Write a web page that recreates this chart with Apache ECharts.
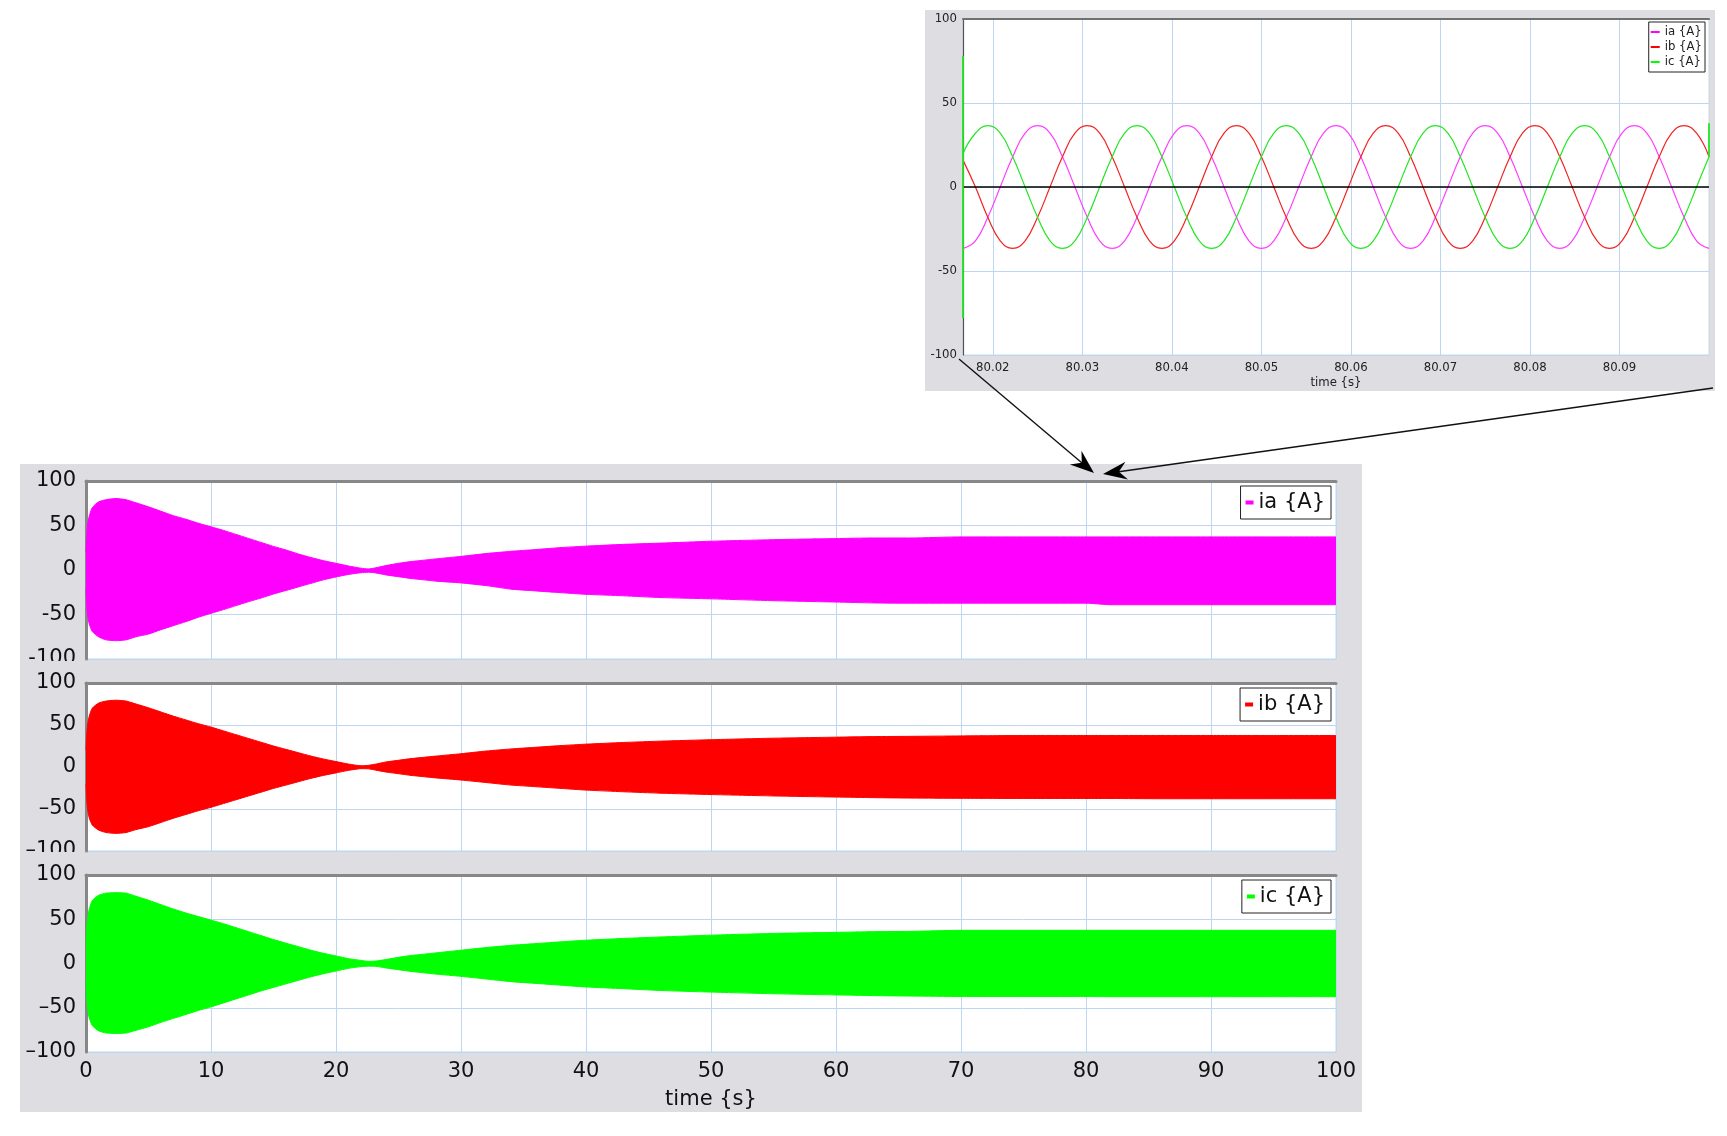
<!DOCTYPE html>
<html><head><meta charset="utf-8">
<script src="https://cdn.jsdelivr.net/npm/echarts@6.0.0/dist/echarts.min.js"></script>
<style>html,body{margin:0;padding:0;background:#fff;}#c{width:1727px;height:1136px;}</style>
</head><body><div id="c"></div>
<script>
// ---------- DATA ----------
// envelope of the 60 Hz currents over the 100 s run (main panels)
const envTime = [0, 0.1, 0.25, 0.5, 1, 1.6, 2.4, 3.2, 4, 5, 6, 7, 8, 9, 10, 11, 12, 13, 14, 15, 16, 17, 18, 19, 20, 21, 22, 22.6, 23.2, 24, 25, 26, 27, 28, 30, 32, 34, 36, 38, 40, 43, 46, 50, 55, 60, 63, 66, 70, 75, 80, 82, 86, 90, 95, 100];
const iaUpper = [20, 48, 60, 70, 76.5, 79, 80.3, 79, 75.5, 71, 66, 61, 57, 52.5, 48.5, 44.5, 40, 35.5, 31, 26.5, 22.5, 18, 14, 10.5, 7.5, 4.5, 2, 1.2, 2.5, 5, 7.5, 9.5, 11, 12.5, 15.3, 18.5, 21, 23, 25.2, 26.8, 28.8, 30.2, 32.3, 34.1, 35.3, 36, 36, 37.2, 37.2, 37.2, 37.2, 37.2, 37.2, 37.2, 37.2];
const iaLower = [-20, -48, -60, -69, -75, -78.5, -79.4, -78.5, -75, -72, -67, -62.5, -58, -53, -48.7, -44.5, -40, -35.6, -31.5, -27, -23, -19, -15, -11, -7.8, -5, -3, -2.5, -3.3, -5.5, -7.5, -9.5, -11, -12.5, -14.5, -17.5, -21.5, -23.5, -25.5, -27.3, -29, -31, -32.4, -34.5, -36, -37, -37.3, -37.3, -37.3, -37.3, -39, -39, -39, -39, -39];
const ibUpper = [20, 47, 60, 70, 76, 78.5, 79.5, 78.5, 75, 70.5, 65.5, 60.5, 56, 51.5, 47.5, 43, 38.5, 34, 29.5, 25, 21, 17, 13, 9.5, 6.5, 3.5, 1.5, 2, 3.5, 6, 8, 10, 11.5, 13, 15.8, 19, 21.5, 23.5, 25.5, 27.2, 29.2, 30.8, 32.5, 34.3, 35.5, 36.2, 36.5, 37, 37.5, 37.5, 37.5, 37.5, 37.5, 37.5, 37.5];
const ibLower = [-20, -47, -60, -69, -75, -78, -79, -78, -74.5, -71, -66, -61, -56.5, -52, -48, -43.5, -39, -34.5, -30, -25.5, -21.5, -17.5, -13.5, -10, -7, -4, -2, -2.2, -3.8, -6, -8, -10, -11.5, -13, -15.5, -18.5, -21.5, -23.5, -25.5, -27.5, -29.5, -31.2, -32.8, -34.5, -35.8, -36.5, -37, -37.3, -37.5, -37.5, -37.5, -37.8, -37.8, -37.8, -37.8];
const icUpper = [20, 48, 61, 71, 77, 79.5, 80, 79.5, 76, 71.5, 66.5, 61.5, 57, 53, 49, 45, 40.5, 36, 31.5, 27, 23, 19, 15, 11.5, 8.5, 5.5, 3.5, 2.5, 2.8, 4.5, 7, 9, 10.5, 12, 15, 18, 20.5, 22.5, 24.5, 26.3, 28.3, 30, 32, 34, 35.2, 36, 36.3, 37.5, 37.5, 37.5, 37.5, 37.5, 37.5, 37.5, 37.5];
const icLower = [-20, -48, -61, -70, -76, -78.5, -79, -78.5, -75.5, -71.5, -66.5, -62, -57.5, -53, -49, -44.5, -40, -35.5, -31, -27, -23, -19, -15, -11.5, -8.5, -5.5, -3.5, -3, -3.2, -5, -7, -9, -10.5, -12, -14.5, -17.5, -20.5, -22.5, -24.5, -26.5, -28.5, -30.5, -32.3, -34.2, -35.5, -36.3, -36.8, -37.3, -37.3, -37.3, -37.5, -37.5, -37.5, -37.5, -37.5];

// zoomed window 80.0167 s .. 80.1 s (inset)
const zoomTime = [80.01667, 80.01806, 80.01944, 80.02083, 80.02222, 80.02361, 80.025, 80.02639, 80.02778, 80.02917, 80.03056, 80.03194,
  80.03333, 80.03472, 80.03611, 80.0375, 80.03889, 80.04028, 80.04167, 80.04306, 80.04444, 80.04583, 80.04722, 80.04861,
  80.05, 80.05139, 80.05278, 80.05417, 80.05556, 80.05694, 80.05833, 80.05972, 80.06111, 80.0625, 80.06389, 80.06528,
  80.06667, 80.06806, 80.06944, 80.07083, 80.07222, 80.07361, 80.075, 80.07639, 80.07778, 80.07917, 80.08056, 80.08194,
  80.08333, 80.08472, 80.08611, 80.0875, 80.08889, 80.09028, 80.09167, 80.09306, 80.09444, 80.09583, 80.09722, 80.09861, 80.1];
const zoomIa = [-36.5, -32, -18, 0, 18, 32, 36.5, 32, 18, 0, -18, -32,
  -36.5, -32, -18, 0, 18, 32, 36.5, 32, 18, 0, -18, -32,
  -36.5, -32, -18, 0, 18, 32, 36.5, 32, 18, 0, -18, -32,
  -36.5, -32, -18, 0, 18, 32, 36.5, 32, 18, 0, -18, -32,
  -36.5, -32, -18, 0, 18, 32, 36.5, 32, 18, 0, -18, -32, -36.5];
const zoomIb = [16, 0, -18, -32, -36.5, -32, -18, 0, 18, 32, 36.5, 32,
  18, 0, -18, -32, -36.5, -32, -18, 0, 18, 32, 36.5, 32,
  18, 0, -18, -32, -36.5, -32, -18, 0, 18, 32, 36.5, 32,
  18, 0, -18, -32, -36.5, -32, -18, 0, 18, 32, 36.5, 32,
  18, 0, -18, -32, -36.5, -32, -18, 0, 18, 32, 36.5, 32, 18];
const zoomIc = [20, 32, 36.5, 32, 18, 0, -18, -32, -36.5, -32, -18, 0,
  18, 32, 36.5, 32, 18, 0, -18, -32, -36.5, -32, -18, 0,
  18, 32, 36.5, 32, 18, 0, -18, -32, -36.5, -32, -18, 0,
  18, 32, 36.5, 32, 18, 0, -18, -32, -36.5, -32, -18, 0,
  18, 32, 36.5, 32, 18, 0, -18, -32, -36.5, -32, -18, 0, 18];
// switching transients visible at the window edges (ic)
const icSpikeStart = [[80.01667, 78], [80.01667, -78]];
const icSpikeEnd = [[80.1, 38], [80.1, 18]];

const insetTimeTicks = [80.02, 80.03, 80.04, 80.05, 80.06, 80.07, 80.08, 80.09];
const yTicks = [-100, -50, 0, 50, 100];
const seriesNames = ['ia {A}', 'ib {A}', 'ic {A}'];

// ---------- STYLE ----------
const FONT = "'DejaVu Sans', 'Liberation Sans', sans-serif";
const FONT_C = "'DejaVu Sans Condensed', 'Liberation Sans Narrow', 'DejaVu Sans', sans-serif";
const GRIDC = '#bdd6f1';
const BORDER = '#878787';
const BG = '#dedee2';
const pair = (xs, ys) => xs.map((x, i) => [x, ys[i]]);

const panels = [
  { name: seriesNames[0], color: '#ff00ff', up: iaUpper, lo: iaLower, top: 481, height: 178, dash: '-' },
  { name: seriesNames[1], color: '#ff0000', up: ibUpper, lo: ibLower, top: 683, height: 168, dash: '\u2013' },
  { name: seriesNames[2], color: '#00ff00', up: icUpper, lo: icLower, top: 875, height: 177, dash: '\u2013' }
];

const grid = [], xAxis = [], yAxis = [], series = [], legend = [];
panels.forEach((p, i) => {
  grid.push({ left: 86, top: p.top, width: 1250, height: p.height, show: true, backgroundColor: '#fff', borderColor: GRIDC, borderWidth: 1 });
  yAxis.push({
    gridIndex: i, type: 'value', min: yTicks[0], max: yTicks[yTicks.length - 1], interval: 50,
    axisLine: { show: true, onZero: false, lineStyle: { color: BORDER, width: 3 } },
    axisTick: { show: false },
    splitLine: { show: true, lineStyle: { color: GRIDC, width: 1 } },
    axisLabel: { fontSize: 21, fontFamily: FONT, color: '#111', margin: 10,
      formatter: v => v < 0 ? p.dash + Math.abs(v) : String(v) }
  });
  legend.push({
    data: [{ name: p.name, icon: 'rect' }], selectedMode: false,
    right: 396, top: p.top + 5, orient: 'horizontal',
    itemWidth: 8, itemHeight: 4, padding: [6, 6, 6, 5],
    borderColor: '#222', borderWidth: 1, backgroundColor: '#fff',
    textStyle: { fontSize: 21, fontFamily: FONT, color: '#111' }
  });
  series.push({
    type: 'line', name: p.name, xAxisIndex: i, yAxisIndex: i, data: pair(envTime, p.up),
    symbol: 'none', smooth: 0.2, lineStyle: { color: p.color, width: 1 }, itemStyle: { color: p.color },
    areaStyle: { color: p.color, opacity: 1, origin: -1 }, z: 3
  });
  series.push({
    type: 'line', name: p.name, xAxisIndex: i, yAxisIndex: i, data: pair(envTime, p.lo),
    symbol: 'none', smooth: 0.2, lineStyle: { color: p.color, width: 1 }, itemStyle: { color: p.color },
    areaStyle: { color: p.color, opacity: 1, origin: 1 }, z: 3
  });
});
panels.forEach((p, i) => {
  xAxis.push({
    gridIndex: i, type: 'value', min: 0, max: 100, interval: 10,
    axisLine: { show: false, onZero: false }, axisTick: { show: false },
    splitLine: { show: true, lineStyle: { color: GRIDC, width: 1 } },
    axisLabel: { show: i === 2, fontSize: 21, fontFamily: FONT, color: '#111', margin: 9 },
    name: i === 2 ? 'time {s}' : '', nameLocation: 'middle', nameGap: 37,
    nameTextStyle: { fontSize: 21, fontFamily: FONT, color: '#111' }
  });
});
panels.forEach((p, i) => {
  xAxis.push({
    gridIndex: i, type: 'value', position: 'top', min: 0, max: 100,
    axisLine: { show: true, onZero: false, lineStyle: { color: BORDER, width: 3 } },
    axisTick: { show: false }, axisLabel: { show: false }, splitLine: { show: false }
  });
});

// ---------- inset ----------
grid.push({ left: 963, top: 19, width: 746, height: 336, show: true, backgroundColor: '#fff', borderColor: '#c9d6e6', borderWidth: 1 });
xAxis.push({
  gridIndex: 3, type: 'value', min: zoomTime[0], max: zoomTime[zoomTime.length - 1],
  axisLine: { show: false, onZero: false },
  axisTick: { show: false, customValues: insetTimeTicks },
  splitLine: { show: true, lineStyle: { color: GRIDC, width: 1 } },
  axisLabel: { customValues: insetTimeTicks, fontSize: 13, fontFamily: FONT_C, color: '#222', margin: 6,
    formatter: v => v.toFixed(2) },
  name: 'time {s}', nameLocation: 'middle', nameGap: 21,
  nameTextStyle: { fontSize: 13, fontFamily: FONT_C, color: '#222' }
});
xAxis.push({
  gridIndex: 3, type: 'value', position: 'top', min: zoomTime[0], max: zoomTime[zoomTime.length - 1],
  axisLine: { show: true, onZero: false, lineStyle: { color: '#707070', width: 2 } },
  axisTick: { show: false }, axisLabel: { show: false }, splitLine: { show: false }
});
yAxis.push({
  gridIndex: 3, type: 'value', min: -100, max: 100, interval: 50,
  axisLine: { show: true, onZero: false, lineStyle: { color: '#555', width: 1.2 } },
  axisTick: { show: false },
  splitLine: { show: true, lineStyle: { color: GRIDC, width: 1 } },
  axisLabel: { fontSize: 13, fontFamily: FONT_C, color: '#222', margin: 6 }
});
const insetColors = ['#ff3cff', '#f22222', '#22e622'];
[zoomIa, zoomIb, zoomIc].forEach((arr, k) => {
  const s = {
    type: 'line', name: seriesNames[k], xAxisIndex: 6, yAxisIndex: 3, data: pair(zoomTime, arr),
    symbol: 'none', smooth: 0.45, lineStyle: { color: insetColors[k], width: 1.2 }, itemStyle: { color: insetColors[k] }, z: 4
  };
  if (k === 0) {
    s.markLine = { silent: true, symbol: ['none', 'none'], label: { show: false },
      lineStyle: { color: '#000', width: 1.5, type: 'solid' }, data: [{ yAxis: 0 }] };
  }
  series.push(s);
});
[icSpikeStart, icSpikeEnd].forEach(d => {
  series.push({ type: 'line', name: 'ic spike', xAxisIndex: 6, yAxisIndex: 3, data: d, symbol: 'none',
    lineStyle: { color: insetColors[2], width: 1.8 }, z: 5, clip: false });
});
legend.push({
  data: seriesNames.map(n => ({ name: n, icon: 'rect' })), selectedMode: false,
  orient: 'vertical', right: 22, top: 22, itemWidth: 9, itemHeight: 2, itemGap: 1,
  padding: [3, 3, 3, 2], borderColor: '#222', borderWidth: 1, backgroundColor: '#fff',
  textStyle: { fontSize: 13, fontFamily: FONT_C, color: '#222', lineHeight: 14 }
});

// ---------- decorations: panels, arrows ----------
function arrow(from, tip) {
  const dx = tip[0] - from[0], dy = tip[1] - from[1], len = Math.hypot(dx, dy);
  const ux = dx / len, uy = dy / len, nx = -uy, ny = ux, L = 24, W = 9, N = 8;
  return [
    { type: 'polyline', shape: { points: [from, [tip[0] - (L - N) * ux, tip[1] - (L - N) * uy]] },
      style: { stroke: '#111', lineWidth: 1.4, fill: null }, z: 100, silent: true },
    { type: 'polygon', shape: { points: [tip, [tip[0] - L * ux + W * nx, tip[1] - L * uy + W * ny],
      [tip[0] - (L - N) * ux, tip[1] - (L - N) * uy], [tip[0] - L * ux - W * nx, tip[1] - L * uy - W * ny]] },
      style: { fill: '#000' }, z: 100, silent: true }
  ];
}
const graphic = [
  { type: 'rect', shape: { x: 20, y: 464, width: 1342, height: 648 }, style: { fill: BG }, z: -10, silent: true },
  { type: 'rect', shape: { x: 925, y: 10, width: 790, height: 381 }, style: { fill: BG }, z: -10, silent: true },
  { type: 'rect', shape: { x: 20, y: 661, width: 64, height: 11 }, style: { fill: BG }, z: 100, silent: true },
  { type: 'rect', shape: { x: 20, y: 852, width: 64, height: 11 }, style: { fill: BG }, z: 100, silent: true }
].concat(arrow([959, 359], [1094, 473]), arrow([1713, 388], [1103, 474]));

const chart = echarts.init(document.getElementById('c'), null, { renderer: 'canvas', width: 1727, height: 1136 });
chart.setOption({
  animation: false,
  backgroundColor: '#fff',
  grid, xAxis, yAxis, series, legend, graphic
});
</script>
</body></html>
